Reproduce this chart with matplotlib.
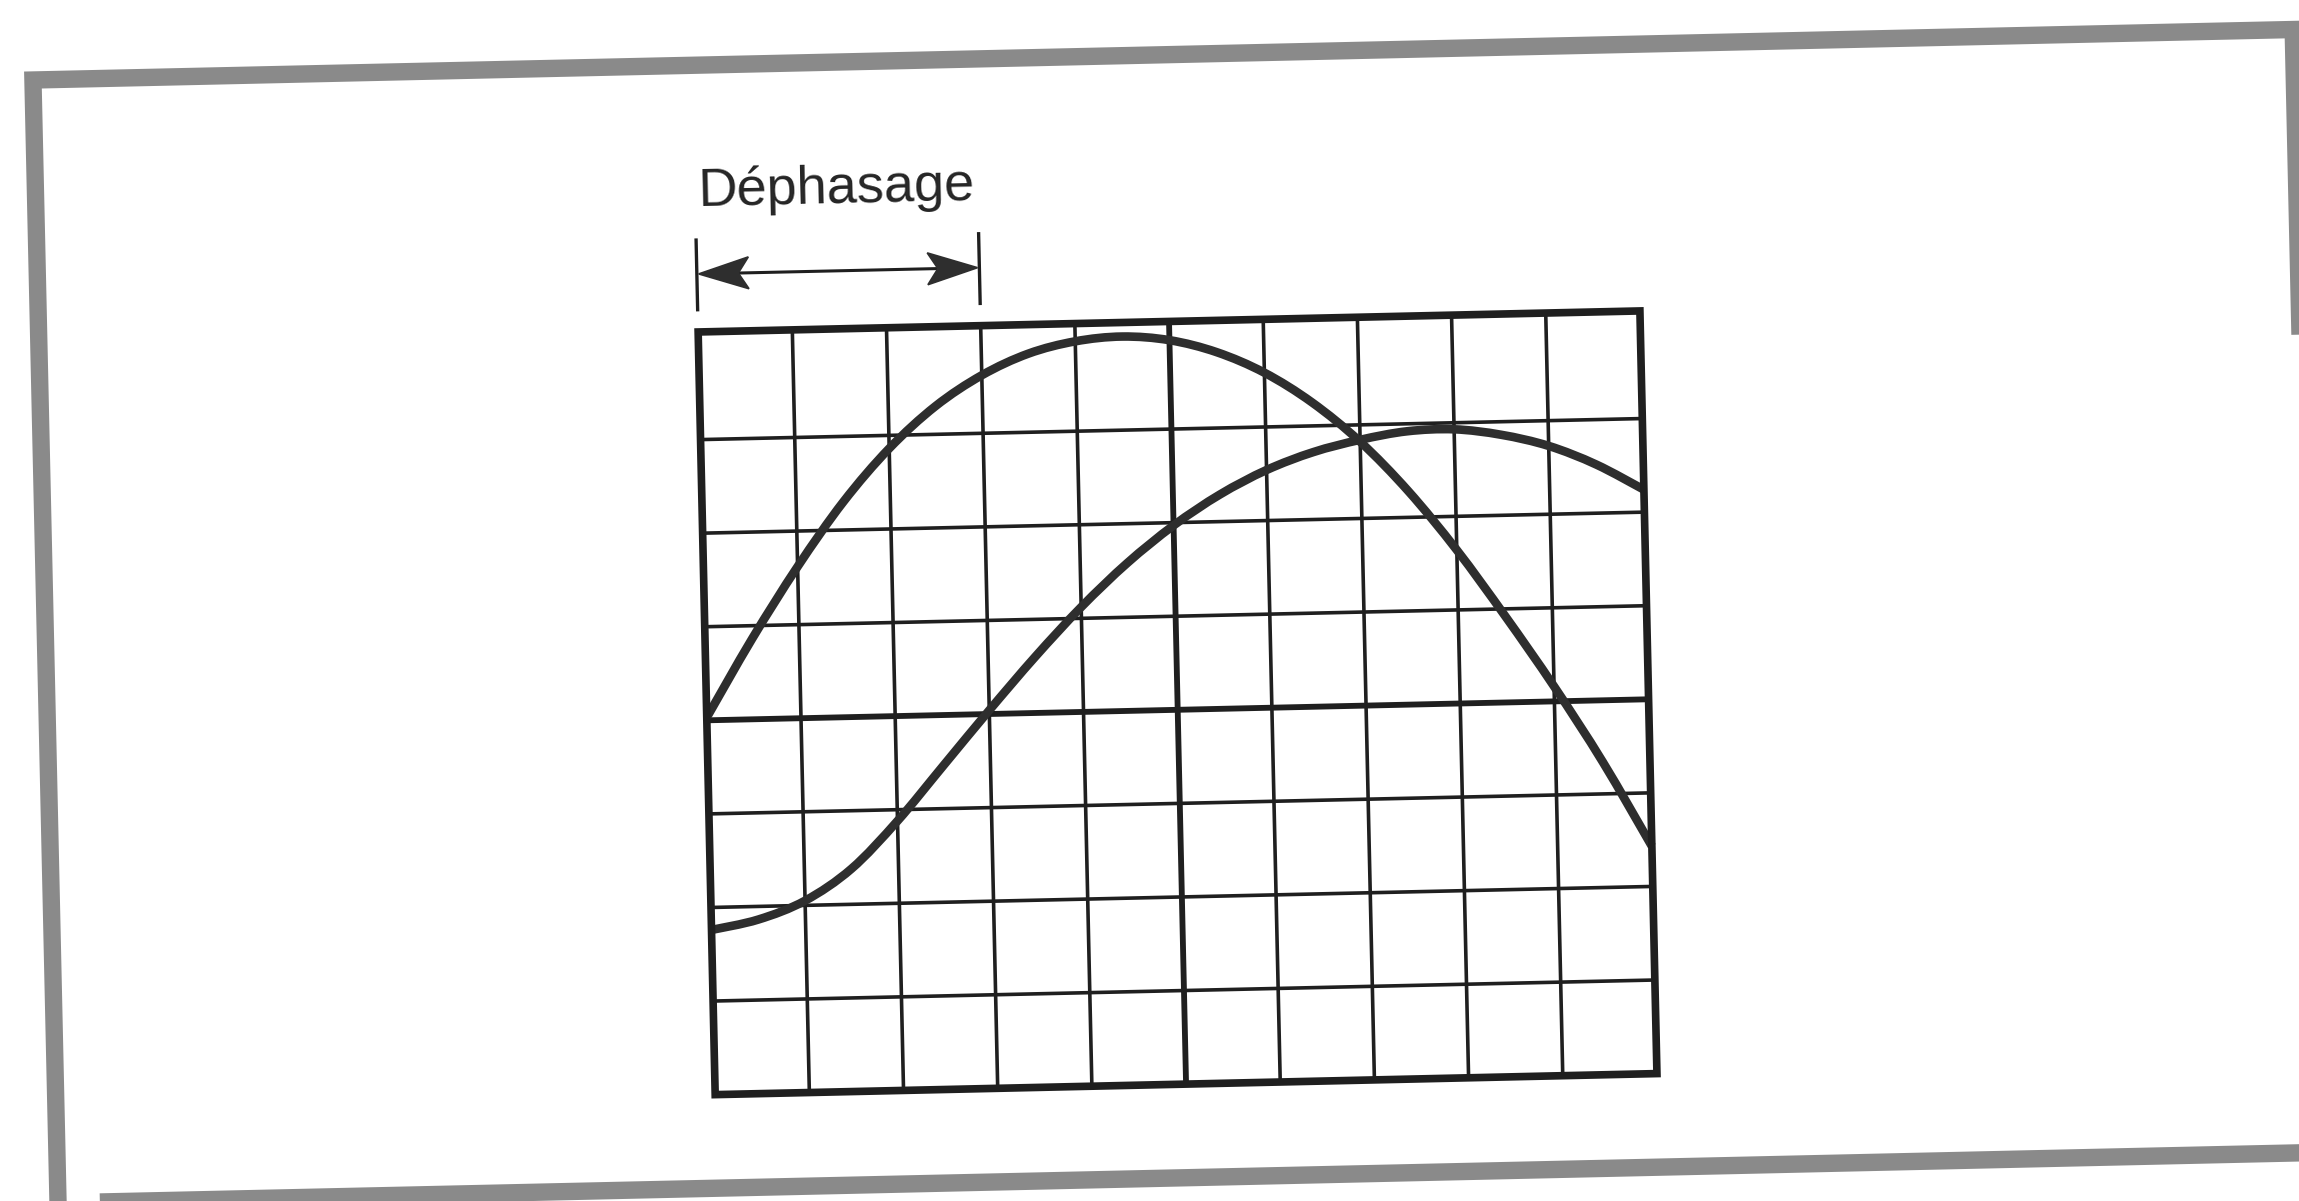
import numpy as np
import matplotlib
matplotlib.use("Agg")
import matplotlib.pyplot as plt
from matplotlib.transforms import Affine2D
from matplotlib.patches import Polygon, PathPatch
from matplotlib.path import Path

# ---------------------------------------------------------------------------
# Screen readings (horizontal and vertical positions in screen divisions)
# ---------------------------------------------------------------------------
x_div = [0.0, 0.5, 1.0, 1.5, 2.0, 2.5, 3.0, 3.5, 4.0, 4.5, 5.0,
         5.5, 6.0, 6.5, 7.0, 7.5, 8.0, 8.5, 9.0, 9.5, 10.0]

# leading signal
trace_a = [0.03, 0.86, 1.62, 2.30, 2.86, 3.30, 3.62, 3.84, 3.96, 4.00, 3.95,
           3.81, 3.58, 3.25, 2.82, 2.28, 1.64, 0.92, 0.16, -0.66, -1.57]

# lagging signal
trace_b = [-2.24, -2.14, -1.95, -1.62, -1.12, -0.54, 0.04, 0.60, 1.12, 1.58, 1.97,
           2.29, 2.54, 2.72, 2.84, 2.92, 2.93, 2.86, 2.73, 2.52, 2.24]

# screen graticule
x_lines = [0, 1, 2, 3, 4, 5, 6, 7, 8, 9, 10]
y_lines = [-4, -3, -2, -1, 0, 1, 2, 3]
y_top = 4.15

# phase-shift marker
shift_start, shift_end = 0.0, 3.0
label = "Déphasage"

# ---------------------------------------------------------------------------
W, H = 2299, 1201
fig = plt.figure(figsize=(W / 100, H / 100), dpi=100)
fig.patch.set_facecolor("white")
ax = fig.add_axes([0, 0, 1, 1])
ax.set_xlim(0, W)
ax.set_ylim(H, 0)
ax.axis("off")

# the page is slightly tilted: divisions -> pixels
tilt = 1.28
sx, sy = 94.2, 93.6
cx, cy = 1177.7, 709.8
T = (Affine2D().translate(-5, 0).scale(sx, -sy)
     .rotate_deg(-tilt).translate(cx, cy) + ax.transData)

ink = "#1f1f1f"
trace_ink = "#2e2e2e"


def smooth_path(xs, ys):
    """Cubic Bezier path passing through every (x, y) sample."""
    p = np.column_stack([xs, ys]).astype(float)
    n = len(p)
    verts = [p[0]]
    codes = [Path.MOVETO]
    for i in range(n - 1):
        p0 = p[i - 1] if i > 0 else p[i]
        p1, p2 = p[i], p[i + 1]
        p3 = p[i + 2] if i + 2 < n else p[i + 1]
        c1 = p1 + (p2 - p0) / 6.0
        c2 = p2 - (p3 - p1) / 6.0
        verts += [c1, c2, p2]
        codes += [Path.CURVE4] * 3
    return Path(np.array(verts), codes)


# outer page frame (halftone grey rule)
frame = Polygon([(-7, -5.0), (17, -5.0), (17, 7.0), (-7, 7.0)], closed=True,
                fill=False, edgecolor="#8a8a8a", linewidth=12.5,
                joinstyle="miter", transform=T, zorder=1)
ax.add_patch(frame)

# graticule
for u in x_lines[1:-1]:
    ax.plot([u, u], [-4, y_top], color=ink,
            lw=4.2 if u == 5 else 2.6, transform=T, zorder=2,
            solid_capstyle="butt")
for v in y_lines[1:]:
    ax.plot([0, 10], [v, v], color=ink,
            lw=4.2 if v == 0 else 2.6, transform=T, zorder=2,
            solid_capstyle="butt")
screen = Polygon([(0, -4), (10, -4), (10, y_top), (0, y_top)], closed=True,
                 fill=False, edgecolor=ink, linewidth=5.5,
                 joinstyle="miter", transform=T, zorder=4)
ax.add_patch(screen)

# traces
for trace in (trace_a, trace_b):
    ax.add_patch(PathPatch(smooth_path(x_div, trace), fill=False,
                           edgecolor=trace_ink, linewidth=6.2,
                           capstyle="butt", joinstyle="round",
                           transform=T, zorder=3))

# phase-shift dimension arrow
y_arrow = 4.77
for u in (shift_start, shift_end):
    ax.plot([u, u], [4.37, 5.15], color=ink, lw=2.4, transform=T, zorder=5,
            solid_capstyle="butt")
ax.plot([shift_start + 0.3, shift_end - 0.3], [y_arrow, y_arrow], color=ink,
        lw=2.2, transform=T, zorder=5)
head_len, head_half, notch = 0.53, 0.17, 0.42
for tip, sgn in ((shift_start + 0.02, 1), (shift_end - 0.02, -1)):
    ax.add_patch(Polygon([(tip, y_arrow),
                          (tip + sgn * head_len, y_arrow + head_half),
                          (tip + sgn * notch, y_arrow),
                          (tip + sgn * head_len, y_arrow - head_half)],
                         closed=True, facecolor="#2e2e2e",
                         edgecolor="#2e2e2e", lw=1.2, joinstyle="miter",
                         transform=T, zorder=6))

ax.text(0.03, 5.5, label, transform=T, rotation=tilt, rotation_mode="anchor",
        ha="left", va="baseline", fontsize=39, color="#252525",
        family=["Liberation Sans", "DejaVu Sans"])

fig.savefig("out.png", dpi=100, facecolor="white")
